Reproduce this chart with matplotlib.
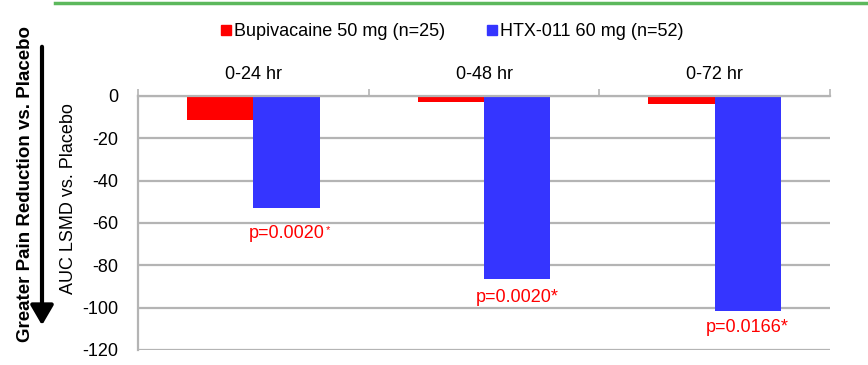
import numpy as np
import matplotlib
matplotlib.use("Agg")
import matplotlib.pyplot as plt
from matplotlib.lines import Line2D

plt.rcParams['font.family'] = ['Liberation Sans', 'DejaVu Sans']

# data
periods = ['0-24 hr', '0-48 hr', '0-72 hr']
bupivacaine = [-11.5, -3, -4]
htx011 = [-53, -86.5, -101.5]
p_values = ['p=0.0020', 'p=0.0020*', 'p=0.0166*']
series_names = ['Bupivacaine 50 mg (n=25)', 'HTX-011 60 mg (n=52)']
yticks = [0, -20, -40, -60, -80, -100, -120]

red = '#ff0000'
blue = '#3535ff'
grid = '#b4b4b4'
fs = 13

fig = plt.figure(figsize=(8.68, 3.65), dpi=100)
ax = fig.add_axes([138/868, 1-350/365, (830-138)/868, (350-96)/365])

x = np.arange(len(periods))
w = 0.287
ax.bar(x - w/2, bupivacaine, w, color=red, zorder=3)
ax.bar(x + w/2, htx011, w, color=blue, zorder=3)

ax.set_xlim(-0.5, len(periods) - 0.5)
ax.set_ylim(-120, 0)
ax.set_yticks(yticks)
ax.set_yticklabels([str(v) for v in yticks], fontsize=fs)
ax.tick_params(axis='y', length=0, pad=14)
ax.yaxis.grid(True, color=grid, linewidth=1.6, zorder=0)

# category axis along zero line, with boundary ticks pointing up
ax.xaxis.tick_top()
ax.set_xticks(np.arange(len(periods) + 1) - 0.5)
ax.set_xticklabels([])
ax.tick_params(axis='x', which='major', length=5, width=1.2, color=grid, direction='out')
ax.set_xticks(x, minor=True)
ax.set_xticklabels(periods, minor=True, fontsize=fs)
ax.tick_params(axis='x', which='minor', length=0, pad=9)

for side in ['right', 'bottom']:
    ax.spines[side].set_visible(False)
for side in ['top', 'left']:
    ax.spines[side].set_color(grid)
    ax.spines[side].set_linewidth(1.6)
ax.spines['top'].set_zorder(4)

# p-value labels below HTX-011 bars
gaps = [17, 10, 8]
for i, (v, lab) in enumerate(zip(htx011, p_values)):
    t = ax.annotate(lab, xy=(x[i] + w/2, v), xytext=(0, -gaps[i]), textcoords='offset pixels',
                    ha='center', va='top', color=red, fontsize=fs)
    if not lab.endswith('*'):
        # small raised asterisk on the first label
        ax.annotate('*', xy=(1, 1), xycoords=t, xytext=(1, 0), textcoords='offset pixels',
                    ha='left', va='top', color=red, fontsize=8)

ax.set_ylabel('AUC LSMD vs. Placebo', fontsize=fs)
ax.yaxis.set_label_coords(-(138-77)/692, (350-199)/254)

handles = [Line2D([], [], marker='s', linestyle='none', markersize=7.5, color=c) for c in (red, blue)]
fig.legend(handles, series_names, loc='center', bbox_to_anchor=(451/868, 1-32/365), ncol=2,
           frameon=False, fontsize=fs, handletextpad=0.05, columnspacing=2.2, handlelength=0.8)

# outer annotation on left
fig.text(26/868, 1-184/365, 'Greater Pain Reduction vs. Placebo', rotation=90, ha='center', va='center',
         fontsize=13.5, fontweight='bold')
fig.add_artist(matplotlib.patches.FancyArrowPatch((42/868, 1-44/365), (42/868, 1-328/365),
                                                  transform=fig.transFigure, arrowstyle='-|>,head_length=0.6,head_width=0.35',
                                                  mutation_scale=20, color='black', linewidth=3))

# green rule at top
fig.add_artist(Line2D([55/868, 1], [1-3/365, 1-3/365], transform=fig.transFigure, color='#5cb85c', linewidth=2.5))

fig.savefig('out.png', dpi=100)
